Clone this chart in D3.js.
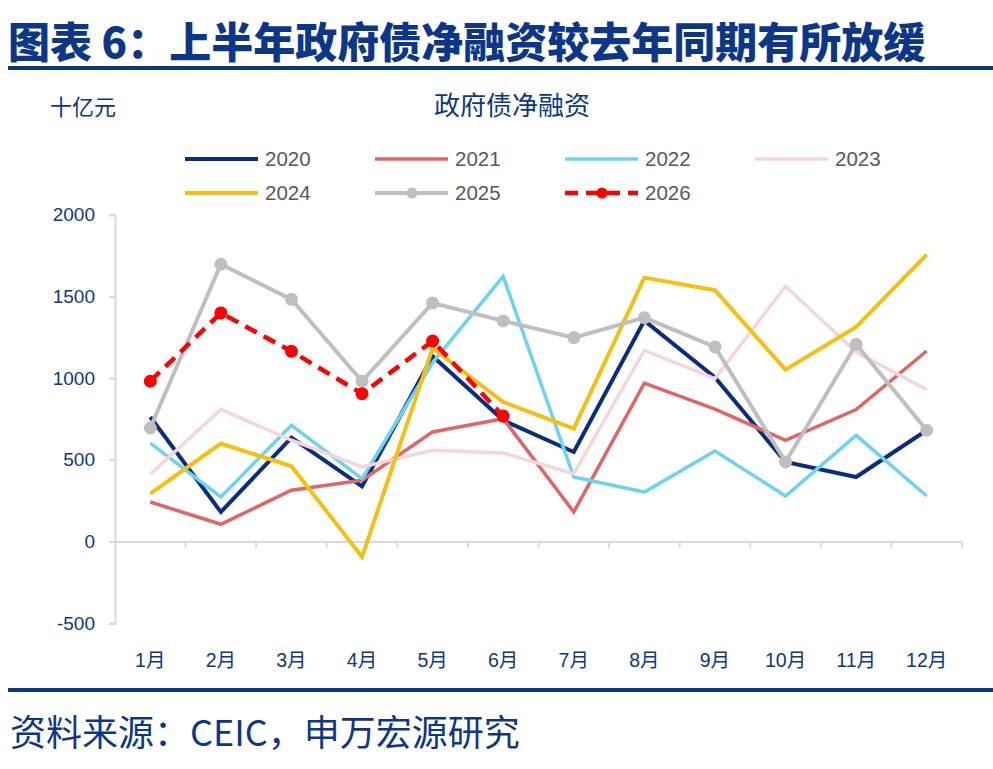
<!DOCTYPE html>
<html>
<head>
<meta charset="utf-8">
<script src="https://cdn.jsdelivr.net/npm/d3@7"></script>
<style>
  body { margin: 0; background: #fff; }
  svg text { font-family: "Liberation Sans", "Noto Sans CJK SC", sans-serif; }
</style>
</head>
<body>
<svg id="chart" width="993" height="769"></svg>
<script>
// data (十亿元)
const months = ["1月", "2月", "3月", "4月", "5月", "6月", "7月", "8月", "9月", "10月", "11月", "12月"];
const yTicks = [-500, 0, 500, 1000, 1500, 2000];

const v2020 = [762, 181, 636, 338, 1134, 742, 548, 1352, 1004, 487, 395, 681];
const v2021 = [242, 106, 314, 375, 671, 752, 181, 970, 810, 620, 808, 1166];
const v2022 = [603, 273, 711, 385, 1095, 1623, 395, 303, 554, 279, 650, 279];
const v2023 = [412, 809, 620, 457, 559, 542, 416, 1170, 997, 1562, 1160, 930];
const v2024 = [294, 600, 461, -94, 1183, 854, 691, 1615, 1538, 1052, 1313, 1756];
const v2025 = [695, 1697, 1482, 981, 1460, 1350, 1248, 1370, 1191, 487, 1207, 681];
const v2026 = [981, 1399, 1164, 905, 1227, 768];

const series = [
  { name: "2020", values: v2020, color: "#0A2D84", width: 4 },
  { name: "2021", values: v2021, color: "#E06666", width: 3.5 },
  { name: "2022", values: v2022, color: "#6CD3F3", width: 3.5 },
  { name: "2023", values: v2023, color: "#F6D6DB", width: 3.5 },
  { name: "2024", values: v2024, color: "#F5C010", width: 4 },
  { name: "2025", values: v2025, color: "#BFBFBF", width: 4, dots: true },
  { name: "2026", values: v2026, color: "#FF0000", width: 4.5, dots: true, dash: "13,8" }
];

const BLUE = "#0C3789";
const CJK = "'Noto Sans CJK SC', sans-serif";
const svg = d3.select("#chart");

// header / footer
svg.append("text").attr("x", 8).attr("y", 58)
  .attr("font-size", 42).attr("font-weight", 900).attr("fill", BLUE)
  .style("font-family", CJK)
  .text("图表 6：上半年政府债净融资较去年同期有所放缓");
svg.append("rect").attr("x", 8).attr("y", 66).attr("width", 985).attr("height", 4).attr("fill", BLUE);
svg.append("rect").attr("x", 8).attr("y", 688).attr("width", 985).attr("height", 4).attr("fill", BLUE);
svg.append("text").attr("x", 10).attr("y", 746)
  .attr("font-size", 36).attr("fill", BLUE)
  .style("font-family", CJK)
  .text("资料来源：CEIC，申万宏源研究");

svg.append("text").attr("x", 50).attr("y", 115).attr("font-size", 22).attr("fill", BLUE)
  .style("font-family", CJK).text("十亿元");
svg.append("text").attr("x", 512).attr("y", 115).attr("text-anchor", "middle")
  .attr("font-size", 26).attr("fill", BLUE)
  .style("font-family", CJK).text("政府债净融资");

// scales
const x = d3.scaleBand().domain(months).range([115, 962]);
const y = d3.scaleLinear().domain([-500, 2000]).range([623.3, 214.7]);

// y axis
const yAxis = svg.append("g").attr("transform", "translate(115,0)")
  .call(d3.axisLeft(y).tickValues(yTicks).tickSize(6).tickPadding(14)
    .tickFormat((d) => String(d)));
yAxis.select(".domain").attr("stroke", "#D9D9D9").attr("stroke-width", 2);
yAxis.selectAll(".tick line").attr("stroke", "#D9D9D9").attr("stroke-width", 2);
yAxis.selectAll(".tick text").attr("font-size", 19).attr("fill", BLUE)
  .style("font-family", "'Liberation Sans', sans-serif");

// x axis at zero
const xAxis = svg.append("g").attr("transform", `translate(0,${y(0)})`)
  .call(d3.axisBottom(x).tickSize(0).tickFormat(""));
xAxis.select(".domain").attr("stroke", "#D9D9D9").attr("stroke-width", 2);
svg.append("g").selectAll("line")
  .data(months.map((m) => x(m) + x.bandwidth()))
  .join("line")
  .attr("x1", (d) => d).attr("x2", (d) => d)
  .attr("y1", y(0)).attr("y2", y(0) + 6)
  .attr("stroke", "#D9D9D9").attr("stroke-width", 2);

// month labels at the bottom
svg.append("g").selectAll("text").data(months).join("text")
  .attr("x", (d) => x(d) + x.bandwidth() / 2)
  .attr("y", 667)
  .attr("text-anchor", "middle")
  .attr("font-size", 19.5).attr("fill", BLUE)
  .text((d) => d);

// lines
const line = d3.line()
  .x((d, i) => x(months[i]) + x.bandwidth() / 2)
  .y((d) => y(d));

series.forEach((s) => {
  svg.append("path")
    .datum(s.values)
    .attr("d", line)
    .attr("fill", "none")
    .attr("stroke", s.color)
    .attr("stroke-width", s.width)
    .attr("stroke-linejoin", "miter")
    .attr("stroke-dasharray", s.dash || null);
  if (s.dots) {
    svg.append("g").selectAll("circle").data(s.values).join("circle")
      .attr("cx", (d, i) => x(months[i]) + x.bandwidth() / 2)
      .attr("cy", (d) => y(d))
      .attr("r", 6.5)
      .attr("fill", s.color);
  }
});

// legend
const legendX = [185, 375, 565, 755];
const legendY = [159, 193];
const legend = svg.append("g");
series.forEach((s, i) => {
  const lx = legendX[i % 4];
  const ly = legendY[Math.floor(i / 4)];
  const g = legend.append("g");
  g.append("line")
    .attr("x1", lx).attr("x2", lx + 73)
    .attr("y1", ly).attr("y2", ly)
    .attr("stroke", s.color).attr("stroke-width", s.width)
    .attr("stroke-dasharray", s.dash || null);
  if (s.dots) {
    g.append("circle").attr("cx", lx + 37).attr("cy", ly).attr("r", 5.5).attr("fill", s.color);
  }
  g.append("text").attr("x", lx + 80).attr("y", ly + 7)
    .attr("font-size", 20.5).attr("fill", "#595959").text(s.name);
});
</script>
</body>
</html>
